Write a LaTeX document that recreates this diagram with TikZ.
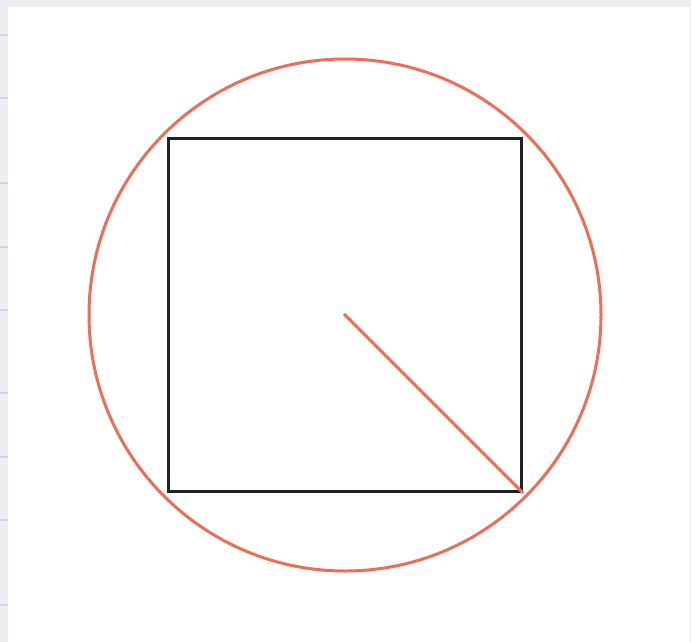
\documentclass[tikz,border=0pt]{standalone}
\usepackage{tikz}
\usepackage{xcolor}
\usetikzlibrary{positioning}
\definecolor{frame}{HTML}{ECEEF1}
\definecolor{tick}{HTML}{C9D6E3}
\definecolor{ink}{HTML}{222222}
\definecolor{radcol}{HTML}{EA6E58}

\begin{document}
\begin{tikzpicture}[
  x=1pt, y=-1pt,
  sqbox/.style={draw=ink, line width=3pt, minimum size=353pt, inner sep=0pt},
  circbox/.style={circle, draw=radcol, line width=3pt, minimum size=512pt, inner sep=0pt},
  rad/.style={draw=radcol, line width=3pt},
  tk/.style={draw=tick, line width=1.2pt},
]
\useasboundingbox (0,0) rectangle (691,642);
% screenshot frame
\fill[frame] (0,0) rectangle (691,642);
\fill[white] (8,7) rectangle (690,642);
\foreach \y in {35,98,183,247,310,393,457,520,605}
  \draw[tk] (0,\y) -- (8,\y);
% shapes
\node[circbox] (circ) at (345,315) {};
\node[sqbox] (sq) at (344.5,314.5) {};
\draw[rad, line cap=round] (sq.center) -- (sq.south east);
\end{tikzpicture}
\end{document}
